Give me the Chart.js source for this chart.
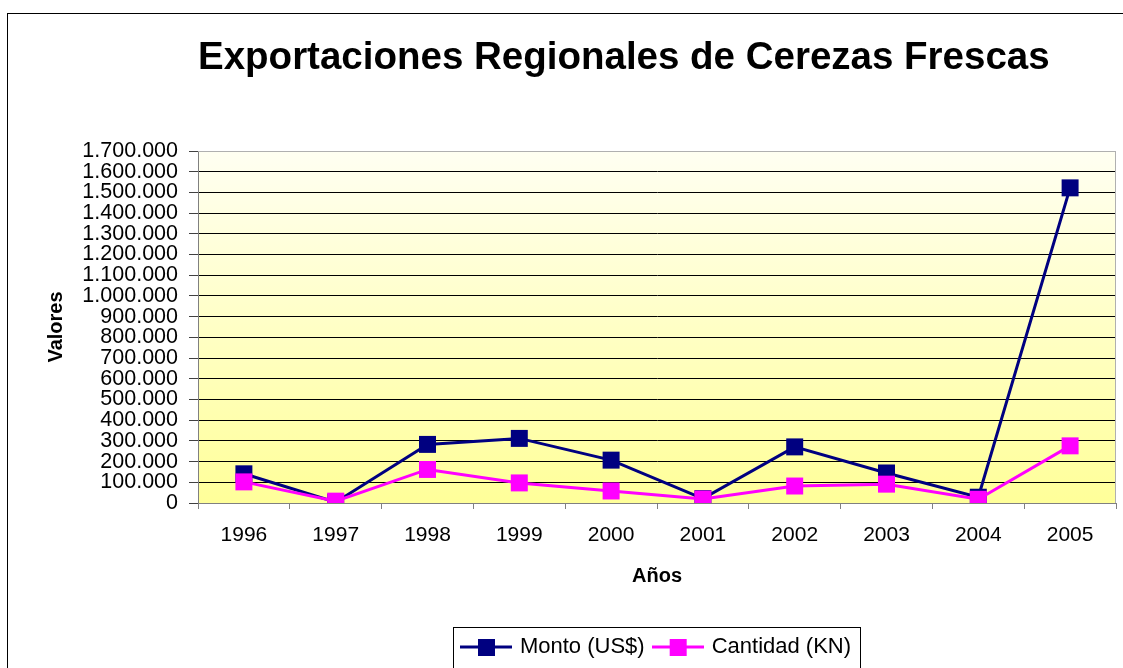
<!DOCTYPE html>
<html lang="es">
<head>
  <meta charset="UTF-8">
  <title>Exportaciones Regionales de Cerezas Frescas</title>
  <script src="https://cdn.jsdelivr.net/npm/chart.js"></script>
  <style>
    html, body { margin: 0; padding: 0; background: #fff; }
    #wrap { width: 1123px; height: 668px; position: relative; }
  </style>
</head>
<body>
  <div id="wrap"><canvas id="myChart"></canvas></div>
  <script>
    // data
    const years = ['1996', '1997', '1998', '1999', '2000', '2001', '2002', '2003', '2004', '2005'];
    const monto = [141000, 4000, 283000, 312000, 207000, 21000, 271000, 145000, 28000, 1522000];
    const cantidad = [102000, 9000, 162000, 97000, 58000, 19000, 82000, 91000, 18000, 276000];
    const yMin = 0;
    const yMax = 1700000;
    const yStep = 100000;

    const FONT = "'Liberation Sans', Arial, sans-serif";
    const NAVY = '#000080';
    const PINK = '#FF00FF';

    function fmt(v) {
      return String(v).replace(/\B(?=(\d{3})+(?!\d))/g, '.');
    }

    // legend symbol: line with a square in the middle
    function legendIcon(color) {
      const c = document.createElement('canvas');
      c.width = 52; c.height = 17;
      const g = c.getContext('2d');
      g.strokeStyle = color;
      g.lineWidth = 3;
      g.beginPath(); g.moveTo(0, 8.5); g.lineTo(52, 8.5); g.stroke();
      g.fillStyle = color;
      g.fillRect(18, 0, 17, 17);
      return c;
    }

    const decor = {
      id: 'decor',
      beforeDraw(chart) {
        const { ctx, chartArea: a } = chart;
        const grad = ctx.createLinearGradient(0, a.top, 0, a.bottom);
        grad.addColorStop(0, '#FFFFF2');
        grad.addColorStop(1, '#FFFF99');
        ctx.save();
        ctx.fillStyle = grad;
        ctx.fillRect(a.left, a.top, a.right - a.left, a.bottom - a.top);
        ctx.restore();
      },
      beforeDatasetsDraw(chart) {
        const { ctx, chartArea: a } = chart;
        ctx.save();
        ctx.strokeStyle = '#B0B0B0';
        ctx.lineWidth = 1;
        ctx.beginPath();
        ctx.moveTo(a.left, a.top + 0.5);
        ctx.lineTo(a.right - 0.5, a.top + 0.5);
        ctx.lineTo(a.right - 0.5, a.bottom);
        ctx.stroke();
        ctx.restore();
      },
      afterDraw(chart) {
        const { ctx } = chart;
        ctx.save();
        ctx.strokeStyle = '#000';
        ctx.lineWidth = 1;
        // outer frame
        ctx.strokeRect(7.5, 13.5, 1300, 800);
        // legend frame
        const hb = chart.legend.legendHitBoxes;
        if (hb && hb.length) {
          const first = hb[0], last = hb[hb.length - 1];
          const l = Math.round(first.left - 10) + 0.5;
          const r = Math.round(last.left + last.width + 9) + 0.5;
          const t = Math.round(first.top - 9) + 0.5;
          ctx.strokeRect(l, t, r - l, 100);
        }
        ctx.restore();
      }
    };

    const ctx = document.getElementById('myChart').getContext('2d');
    new Chart(ctx, {
      type: 'line',
      data: {
        labels: years,
        datasets: [{
          label: 'Monto (US$)',
          data: monto,
          borderColor: NAVY,
          backgroundColor: NAVY,
          borderWidth: 3,
          pointStyle: 'rect',
          pointRadius: 12,
          pointBorderWidth: 0,
          pointBackgroundColor: NAVY,
          order: 2,
          tension: 0
        }, {
          label: 'Cantidad (KN)',
          data: cantidad,
          borderColor: PINK,
          backgroundColor: PINK,
          borderWidth: 3,
          pointStyle: 'rect',
          pointRadius: 12,
          pointBorderWidth: 0,
          pointBackgroundColor: PINK,
          order: 1,
          tension: 0
        }]
      },
      options: {
        responsive: true,
        maintainAspectRatio: false,
        animation: false,
        events: [],
        layout: { autoPadding: false, padding: { left: 44, right: 7, top: 13, bottom: 0 } },
        plugins: {
          title: {
            display: true,
            text: 'Exportaciones Regionales de Cerezas Frescas',
            align: 'start',
            fullSize: false,
            color: '#000',
            font: { family: FONT, size: 38.5, weight: 'bold' },
            padding: { top: 22, bottom: 69.8 }
          },
          legend: {
            position: 'bottom',
            fullSize: false,
            labels: {
              color: '#000',
              font: { family: FONT, size: 22 },
              usePointStyle: true,
              pointStyleWidth: 46,
              boxHeight: 17,
              padding: 10,
              sort: (a, b) => a.datasetIndex - b.datasetIndex,
              generateLabels(chart) {
                return chart.data.datasets.map((ds, i) => ({
                  text: ds.label,
                  datasetIndex: i,
                  pointStyle: legendIcon(ds.borderColor),
                  fillStyle: ds.borderColor,
                  strokeStyle: ds.borderColor,
                  lineWidth: 0,
                  fontColor: '#000',
                  hidden: false
                }));
              }
            }
          },
          tooltip: { enabled: false }
        },
        scales: {
          x: {
            offset: true,
            grid: {
              offset: true,
              drawOnChartArea: false,
              drawTicks: true,
              tickLength: 6,
              color: '#808080'
            },
            border: { color: '#808080', width: 1 },
            ticks: {
              color: '#000',
              font: { family: FONT, size: 21 },
              padding: 14,
              maxRotation: 0,
              autoSkip: false
            },
            title: {
              display: true,
              text: 'Años',
              color: '#000',
              font: { family: FONT, size: 20, weight: 'bold' },
              padding: { top: 0, bottom: 37.5 }
            },
            afterFit(scale) {
              scale.height = 123;
              scale.paddingLeft = 0;
              scale.paddingRight = 0;
            }
          },
          y: {
            min: yMin,
            max: yMax,
            grid: {
              color: (c) => (c.tick && c.tick.value === yMax ? '#B0B0B0' : '#000'),
              tickColor: '#404040',
              tickLength: 9,
              lineWidth: 1
            },
            border: { color: '#808080', width: 1 },
            ticks: {
              stepSize: yStep,
              autoSkip: false,
              color: '#000',
              font: { family: FONT, size: 21.5 },
              padding: 11,
              callback: (v) => fmt(v)
            },
            title: {
              display: true,
              text: 'Valores',
              color: '#000',
              font: { family: FONT, size: 20, weight: 'bold' },
              padding: { top: 0, bottom: 0 }
            },
            afterFit(scale) { scale.width = 154; }
          }
        }
      },
      plugins: [decor]
    });
  </script>
</body>
</html>
